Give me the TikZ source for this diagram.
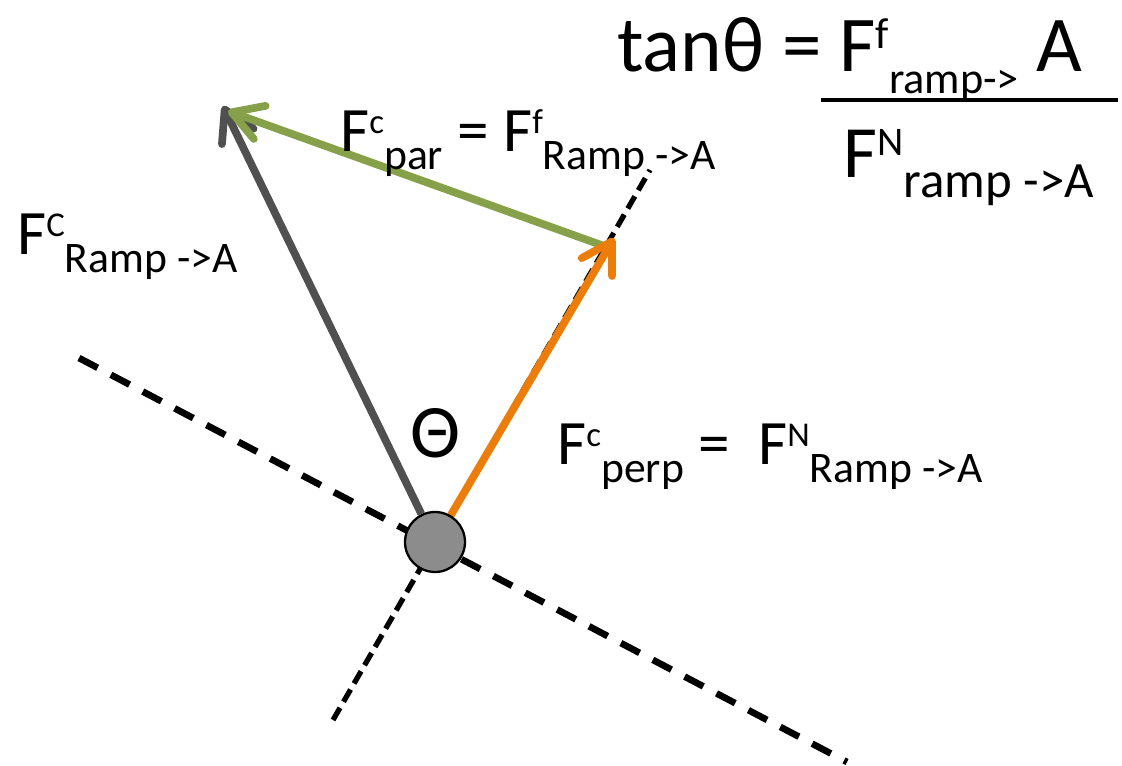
\documentclass[tikz,border=0pt]{standalone}
\usepackage{fontspec}
\setmainfont{Carlito}
\usetikzlibrary{arrows.meta}

\definecolor{forceorange}{RGB}{236,125,10}
\definecolor{forcegreen}{RGB}{134,161,73}
\definecolor{forcegray}{RGB}{80,80,80}
\definecolor{ballgray}{RGB}{140,140,140}

\makeatletter
\newcommand{\fsup}[1]{\raisebox{.3em}{\fontsize{\the\dimexpr .55\dimexpr\f@size pt\relax\relax}{0pt}\selectfont #1}}
\newcommand{\fsub}[2][.69]{\raisebox{-.27em}{\fontsize{\the\dimexpr #1\dimexpr\f@size pt\relax\relax}{0pt}\selectfont #2}}
\makeatother

\begin{document}
\begin{tikzpicture}[
    x=0.02cm, y=-0.02cm,
    >={Straight Barb[length=17pt,width=20pt,round]},
    lbl/.style={anchor=base west, inner sep=0pt, font=\fontsize{36}{40}\selectfont},
    biglbl/.style={lbl, font=\fontsize{45}{50}\selectfont},
    rampline/.style={line width=3.8pt, dash pattern=on 12pt off 8.5pt},
    perpline/.style={line width=3pt, dash pattern=on 8pt off 4pt},
    force/.style={->, line width=4.4pt},
    ball/.style={circle, draw, fill=ballgray, line width=1.3pt,
        minimum size=1.2cm, inner sep=0pt}
]
\useasboundingbox (0,0) rectangle (1122,766);

\coordinate (rampL) at (79,358);
\coordinate (rampR) at (847,762);
\coordinate (perpB) at (333,720);
\coordinate (perpT) at (650,170);
\coordinate (tipC) at (223,106);
\coordinate (tipPerp) at (614,238);
\coordinate (parStart) at (604,246);
\coordinate (parEnd) at (228,111);
\coordinate (fracL) at (821,100);
\coordinate (fracR) at (1118,100);

\draw[rampline] (rampL) -- (rampR);
\draw[perpline] (perpB) -- (perpT);

\node[ball] (ball) at (435,542) {};

\draw[force, forcegray] (ball) -- (tipC);
\draw[force, forcegreen] (parStart) -- (parEnd);
\draw[force, forceorange] (ball) -- (tipPerp);

\node[lbl] (lblC) at (17,255) {F\fsup{C}\fsub{Ramp ->A}};
\node[lbl] (lblPar) at (340,152) {F\fsup{c}\fsub{par} = F\fsup{f}\fsub{Ramp ->A}};
\node[lbl, font=\fontsize{43}{46}\selectfont] (theta) at (410,458) {Θ};
\node[lbl] (lblPerp) at (557,465) {F\fsup{c}\fsub{perp} =\ \ F\fsup{N}\fsub{Ramp ->A}};

\node[biglbl] (tanEq) at (617,72) {tanθ = F\fsup{f}\fsub[.56]{ramp->} A};
\draw[line width=2.2pt] (fracL) -- (fracR);
\node[biglbl, font=\fontsize{42}{46}\selectfont] (denom) at (843,178) {F\fsup{N}\fsub{ramp ->A}};
\end{tikzpicture}
\end{document}
